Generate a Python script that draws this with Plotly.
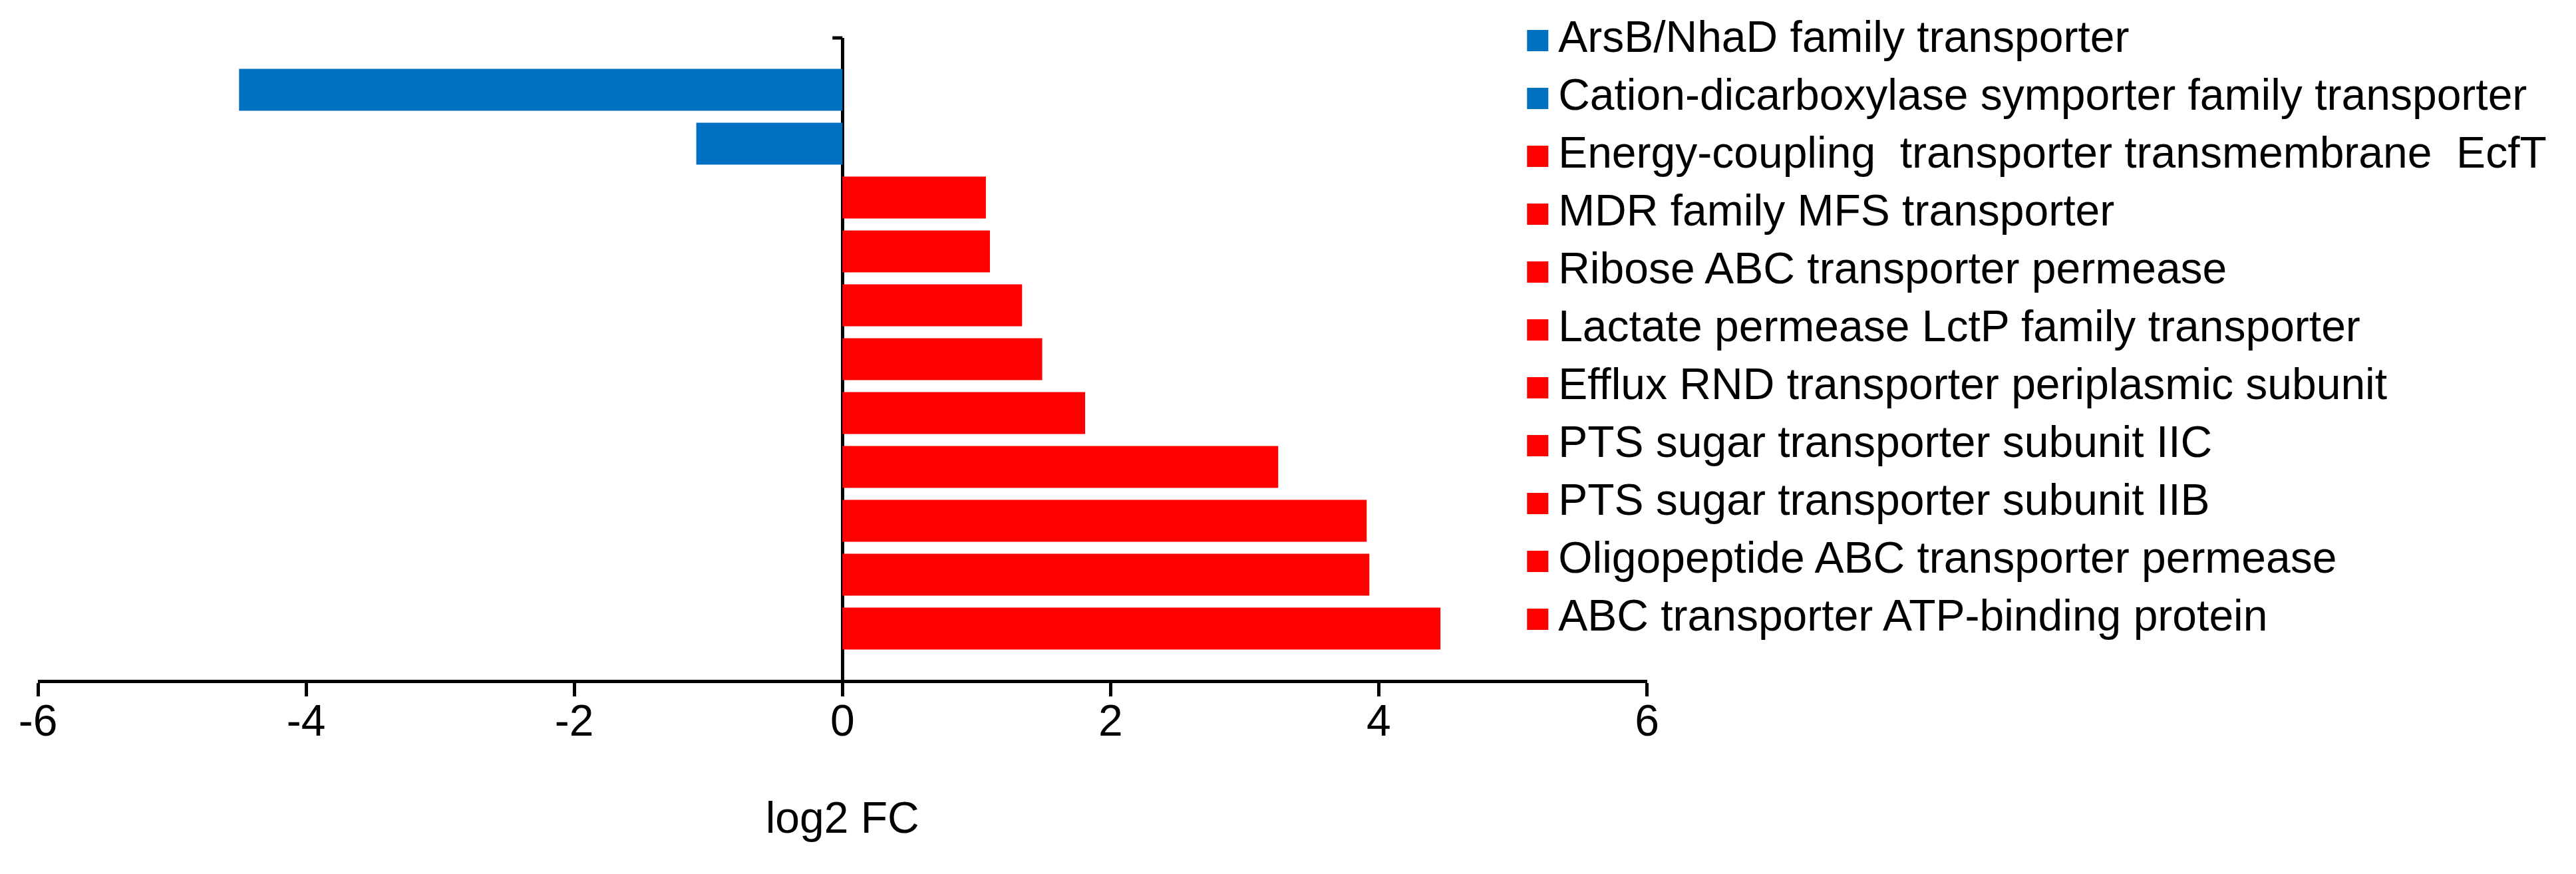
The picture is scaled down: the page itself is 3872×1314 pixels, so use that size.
import plotly.graph_objects as go

# ---- data ----
categories = [
    "ArsB/NhaD family transporter",
    "Cation-dicarboxylase symporter family transporter",
    "Energy-coupling \u00a0transporter transmembrane \u00a0EcfT",
    "MDR family MFS transporter",
    "Ribose ABC transporter permease",
    "Lactate permease LctP family transporter",
    "Efflux RND transporter periplasmic subunit",
    "PTS sugar transporter subunit IIC",
    "PTS sugar transporter subunit IIB",
    "Oligopeptide ABC transporter permease",
    "ABC transporter ATP-binding protein",
]
log2fc = [-4.50, -1.09, 1.07, 1.10, 1.34, 1.49, 1.81, 3.25, 3.91, 3.93, 4.46]
x_ticks = [-6, -4, -2, 0, 2, 4, 6]
x_ticktext = ["-6", "-4", "-2", "0", "2", "4", "6"]

# ---- style ----
BLUE = "#0070C0"
RED = "#FF0000"
FONT = "Liberation Sans, Arial, sans-serif"
FS = 66
LW = 5
colors = [BLUE if v < 0 else RED for v in log2fc]

OFF = 8  # page body margin
W, H = 3872 - 2 * OFF, 1314 - 2 * OFF
PLOT_L, PLOT_R = 57 - OFF, 2487 - OFF      # x-axis pixel extent within the figure
PLOT_T, PLOT_B = 57 - OFF, 1022 - OFF
ML, MR, MT, MB = PLOT_L, 0, PLOT_T, H - PLOT_B
plot_w = W - ML - MR
plot_h = H - MT - MB
x_dom_end = (PLOT_R - ML) / plot_w
LEG_X0 = 2300 - OFF
leg_dom_start = (LEG_X0 - ML) / plot_w
leg_width_px = W - LEG_X0

fig = go.Figure()

fig.add_trace(go.Bar(
    x=log2fc, y=categories, orientation="h",
    marker=dict(color=colors, line=dict(width=0)),
    width=0.778, showlegend=False, hoverinfo="x+y",
))

# legend drawn on its own axes
fig.add_trace(go.Scatter(
    x=[22] * len(categories), y=categories, mode="markers",
    marker=dict(symbol="square", size=32, color=colors, line=dict(width=0)),
    xaxis="x2", yaxis="y2", showlegend=False, hoverinfo="skip",
    cliponaxis=False,
))
fig.add_trace(go.Scatter(
    x=[53] * len(categories), y=categories, mode="text",
    text=categories, textposition="middle right",
    textfont=dict(family=FONT, size=FS, color="black"),
    xaxis="x2", yaxis="y2", showlegend=False, hoverinfo="skip",
    cliponaxis=False,
))

n = len(categories)
# bar axis: category centers 81px apart, first center 78px below plot top
pitch = 81.0
top_pad = 78.0 / pitch
bot_pad = (plot_h - 78.0 - (n - 1) * pitch) / pitch
# legend axis: rows 87px apart, first center 4px below plot top
lp = 87.0
l_top = -4.0 / lp
l_bot = (n - 1) + (plot_h - 4.0 - (n - 1) * lp) / lp

fig.update_layout(
    width=W, height=H,
    margin=dict(l=ML, r=MR, t=MT, b=MB, pad=0),
    paper_bgcolor="white", plot_bgcolor="white",
    font=dict(family=FONT, size=FS, color="black"),
    bargap=0.22,
    xaxis=dict(
        domain=[0, x_dom_end], range=[-6, 6],
        tickvals=x_ticks, ticktext=x_ticktext,
        tickfont=dict(family=FONT, size=FS, color="black"),
        ticks="outside", ticklen=20, tickwidth=LW, tickcolor="black",
        ticklabelstandoff=-20,
        showline=True, linewidth=LW, linecolor="black",
        showgrid=False, zeroline=True, zerolinecolor="black", zerolinewidth=LW,
        title=dict(text="log2 FC", font=dict(family=FONT, size=FS, color="black"), standoff=88),
        fixedrange=True,
    ),
    yaxis=dict(
        type="category", categoryorder="array", categoryarray=categories,
        range=[n - 1 + bot_pad, -top_pad],
        showticklabels=False, showgrid=False, zeroline=False, showline=False,
        ticks="", fixedrange=True,
    ),
    xaxis2=dict(
        domain=[leg_dom_start, 1], range=[0, leg_width_px], anchor="y2",
        visible=False, fixedrange=True,
    ),
    yaxis2=dict(
        type="category", categoryorder="array", categoryarray=categories,
        range=[l_bot, l_top], anchor="x2", domain=[0, 1],
        visible=False, fixedrange=True,
    ),
    shapes=[
        # small tick at the top end of the vertical (zero) axis
        dict(type="line", xref="x", xsizemode="pixel", xanchor=0, x0=-15, x1=0,
             yref="paper", y0=1, y1=1, line=dict(color="black", width=LW)),
    ],
)

fig.write_html("out.html")
